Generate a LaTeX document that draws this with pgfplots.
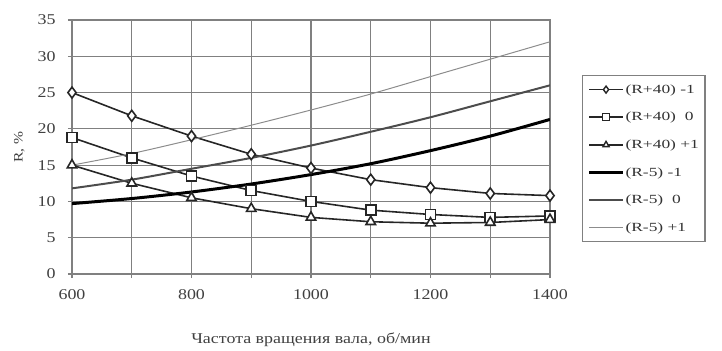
\documentclass[border=0pt]{standalone}
\usepackage{pgfplots}
\pgfplotsset{compat=1.18}
\usepackage{fontspec}
\setmainfont{Liberation Serif}[FakeStretch=1.2]
\newfontfamily\legfont{Liberation Serif}[FakeStretch=1.4]
\definecolor{gridc}{gray}{0.5}
\definecolor{linec}{gray}{0.15}
\pgfplotsset{
  marklegend/.style={legend image code/.code={
    \draw[linec, line width=1.6pt] (0bp,0bp) -- (34bp,0bp);
    \draw[linec, line width=1.4pt] plot[only marks, mark=#1, mark size=3.5pt, mark options={fill=white, draw=linec, line width=1.4pt}] coordinates {(17bp,0bp)};}},
  linelegend/.style={legend image code/.code={
    \draw[##1] (0bp,0bp) -- (34bp,0bp);}},
}
\begin{document}
\begin{tikzpicture}
\begin{axis}[
  at={(0,0)}, anchor=south west,
  scale only axis,
  width=478bp, height=254bp,
  xmin=600, xmax=1400, ymin=0, ymax=35,
  xtick={600,700,...,1400},
  xticklabels={600,,800,,1000,,1200,,1400},
  ytick={0,5,...,35},
  grid=major,
  grid style={gridc, line width=1.1pt},
  axis line style={gridc, line width=1.1pt},
  tick style={gridc, line width=1.1pt},
  tick align=outside,
  major tick length=4bp,
  xtick pos=bottom, ytick pos=left,
  /pgf/number format/assume math mode=true,
  /pgf/number format/set thousands separator={},
  ticklabel style={font=\fontsize{15}{17}\selectfont, text=black!75},
  xticklabel style={yshift=-8bp},
  yticklabel style={xshift=-9bp},
  ylabel={R, \%},
  ylabel style={font=\fontsize{13}{15}\selectfont, text=black!75, yshift=6bp},
  xlabel={Частота вращения вала, об/мин},
  xlabel style={font=\fontsize{15}{17}\selectfont, text=black!75, yshift=-26bp},
  legend style={at={(1,1)}, anchor=north west, xshift=32bp, yshift=-55bp,
    draw=gridc, line width=1.1pt, font=\legfont\fontsize{12.5}{14}\selectfont, text=black!80,
    row sep=13.5bp, inner xsep=5bp, inner ysep=7bp,
    nodes={inner xsep=1bp}},
  legend cell align=left,
]
\addplot[linec, line width=1.6pt, mark=diamond*, mark size=5.5pt, mark options={fill=white, draw=linec, line width=1.6pt}, marklegend=diamond*] coordinates {
(600,25) (700,21.8) (800,19) (900,16.5) (1000,14.6) (1100,13) (1200,11.9) (1300,11.1) (1400,10.8)};
\addlegendentry{(R+40) -1}
\addplot[linec, line width=1.6pt, mark=square*, mark size=5pt, mark options={fill=white, draw=linec, line width=1.6pt}, marklegend=square*] coordinates {
(600,18.8) (700,16) (800,13.5) (900,11.5) (1000,10) (1100,8.8) (1200,8.2) (1300,7.8) (1400,8)};
\addlegendentry{(R+40) \ 0}
\addplot[linec, line width=1.6pt, mark=triangle*, mark size=5.5pt, mark options={fill=white, draw=linec, line width=1.6pt}, marklegend=triangle*] coordinates {
(600,15) (700,12.5) (800,10.5) (900,9) (1000,7.8) (1100,7.2) (1200,7) (1300,7.1) (1400,7.5)};
\addlegendentry{(R+40) +1}
\addplot[black, line width=3pt, smooth, linelegend] coordinates {
(600,9.7) (700,10.4) (800,11.3) (900,12.4) (1000,13.7) (1100,15.2) (1200,17) (1300,19) (1400,21.3)};
\addlegendentry{(R-5) -1}
\addplot[black!70, line width=2pt, smooth, linelegend] coordinates {
(600,11.8) (700,13) (800,14.5) (900,16) (1000,17.7) (1100,19.6) (1200,21.6) (1300,23.8) (1400,26)};
\addlegendentry{(R-5) \ 0}
\addplot[black!45, line width=1pt, smooth, linelegend] coordinates {
(600,15) (700,16.6) (800,18.5) (900,20.5) (1000,22.6) (1100,24.8) (1200,27.2) (1300,29.6) (1400,32)};
\addlegendentry{(R-5) +1}
\end{axis}
\pgfresetboundingbox
\path (-72bp,-77bp) rectangle (650bp,274bp);
\end{tikzpicture}
\end{document}
